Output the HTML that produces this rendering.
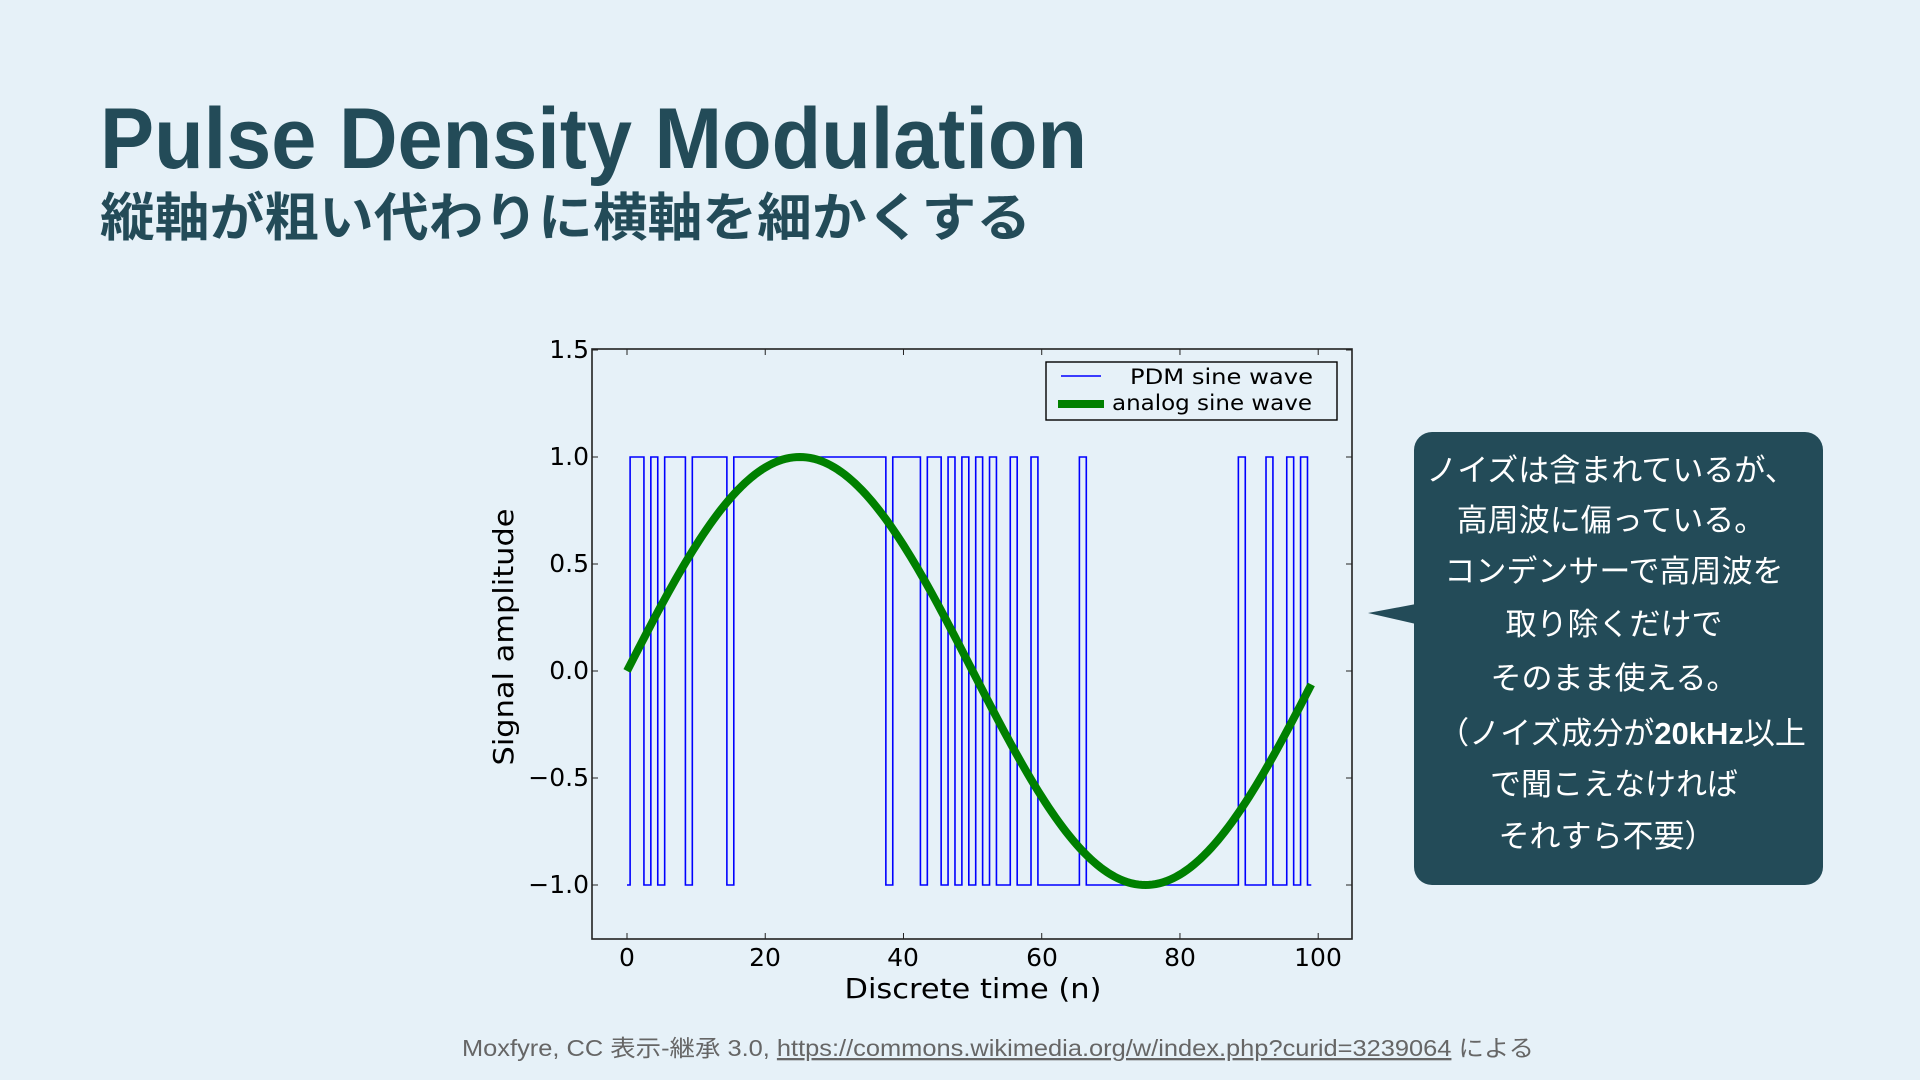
<!DOCTYPE html>
<html><head><meta charset="utf-8"><style>
html,body{margin:0;padding:0;background:#e6f1f8;}
svg{display:block;}
</style></head><body>
<svg id="s" width="1920" height="1080" viewBox="0 0 1920 1080" xmlns="http://www.w3.org/2000/svg">
<rect width="1920" height="1080" fill="#e6f1f8"/>
<text x="100" y="168" font-family="Liberation Sans, Arial, sans-serif" font-weight="bold" font-size="86" fill="#234b58" textLength="987" lengthAdjust="spacingAndGlyphs">Pulse Density Modulation</text>
<text x="100" y="236" font-family="Liberation Sans, 'Noto Sans CJK JP', sans-serif" font-weight="bold" font-size="52" fill="#234b58" textLength="931" lengthAdjust="spacingAndGlyphs">縦軸が粗い代わりに横軸を細かくする</text>

<g font-family="DejaVu Sans, sans-serif" fill="#000">
<rect x="592" y="349" width="760" height="590" fill="none" stroke="#222" stroke-width="1.6"/>
<g id="ticks" stroke="#222" stroke-width="1"></g>
<g font-size="25" text-anchor="end">
<text x="589" y="358">1.5</text>
<text x="589" y="465">1.0</text>
<text x="589" y="572">0.5</text>
<text x="589" y="679">0.0</text>
<text x="589" y="786">−0.5</text>
<text x="589" y="893">−1.0</text>
</g>
<g font-size="25" text-anchor="middle">
<text x="627" y="966">0</text>
<text x="765" y="966">20</text>
<text x="903" y="966">40</text>
<text x="1042" y="966">60</text>
<text x="1180" y="966">80</text>
<text x="1318" y="966">100</text>
</g>
<text x="973" y="998" font-size="28" text-anchor="middle" textLength="257" lengthAdjust="spacingAndGlyphs">Discrete time (n)</text>
<text transform="translate(513,637) rotate(-90)" font-size="28" text-anchor="middle" textLength="257" lengthAdjust="spacingAndGlyphs">Signal amplitude</text>
<path id="pdm" fill="none" stroke="#0000ff" stroke-width="1.6"/>
<path id="sine" fill="none" stroke="#008000" stroke-width="8"/>
<rect x="1046" y="362" width="291" height="58" fill="none" stroke="#000" stroke-width="1.4"/>
<line x1="1061" y1="376" x2="1101" y2="376" stroke="#0000ff" stroke-width="1.6"/>
<line x1="1058" y1="404" x2="1104" y2="404" stroke="#008000" stroke-width="8"/>
<text x="1130" y="384" font-size="21" textLength="183" lengthAdjust="spacingAndGlyphs">PDM sine wave</text>
<text x="1112" y="410" font-size="21" textLength="200" lengthAdjust="spacingAndGlyphs">analog sine wave</text>
</g>

<rect x="1414" y="432" width="409" height="453" rx="18" fill="#234b58"/>
<polygon points="1368,613 1416,604 1416,624" fill="#234b58"/>
<g font-family="Liberation Sans, 'Noto Sans CJK JP', sans-serif" font-size="31" fill="#fff" text-anchor="middle">
<text x="1611" y="481">ノイズは含まれているが、</text>
<text x="1611" y="531">高周波に偏っている。</text>
<text x="1614" y="582">コンデンサーで高周波を</text>
<text x="1614" y="635">取り除くだけで</text>
<text x="1614" y="689">そのまま使える。</text>
<text x="1622" y="744">（ノイズ成分が<tspan font-weight="bold">20kHz</tspan>以上</text>
<text x="1614" y="795">で聞こえなければ</text>
<text x="1607" y="847">それすら不要）</text>
</g>

<text x="462" y="1056" font-family="Liberation Sans, 'Noto Sans CJK JP', sans-serif" font-size="23" fill="#666" textLength="1072" lengthAdjust="spacingAndGlyphs">Moxfyre, CC 表示-継承 3.0, <tspan text-decoration="underline">https://commons.wikimedia.org/w/index.php?curid=3239064</tspan> による</text>
</svg>
<script>
var X=function(n){return 627+n*6.912;}, Y=function(v){return 671-v*214;};
var hi=[1,2,4,6,7,8,10,11,12,13,14];for(var i=16;i<=37;i++)hi.push(i);
hi=hi.concat([39,40,41,42,44,45,47,49,51,53,56,59,66,89,93,96,98]);
var v=[];for(var k=0;k<100;k++)v.push(hi.indexOf(k)>=0?1:-1);
var d="M"+X(0)+","+Y(v[0]);
for(var k=0;k<99;k++){var e=X(k+0.45);d+=" L"+e+","+Y(v[k]);if(v[k+1]!=v[k])d+=" L"+e+","+Y(v[k+1]);}
d+=" L"+X(99)+","+Y(v[99]);
document.getElementById("pdm").setAttribute("d",d);
var s="";for(var n=0;n<=99;n+=0.5){s+=(n?" L":"M")+X(n).toFixed(2)+","+Y(Math.sin(2*Math.PI*n/100)).toFixed(2);}
document.getElementById("sine").setAttribute("d",s);
var t="";
[0,20,40,60,80,100].forEach(function(n){var x=X(n);t+='<line x1="'+x+'" y1="939" x2="'+x+'" y2="933"/><line x1="'+x+'" y1="349" x2="'+x+'" y2="355"/>';});
[1.5,1,0.5,0,-0.5,-1].forEach(function(a){var y=Y(a);t+='<line x1="592" y1="'+y+'" x2="598" y2="'+y+'"/><line x1="1352" y1="'+y+'" x2="1346" y2="'+y+'"/>';});
document.getElementById("ticks").innerHTML=t;
</script>
</body></html>
